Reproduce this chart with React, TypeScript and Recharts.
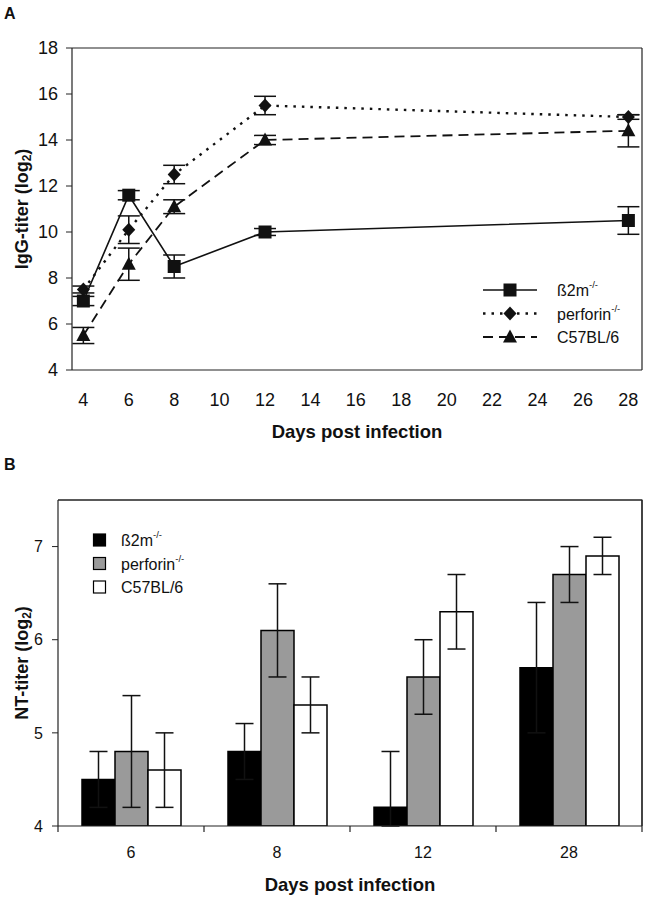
import React from 'react';
import * as RC from 'recharts';
import {
  LineChart, Line, BarChart, Bar, XAxis, YAxis, ErrorBar, Legend, Label,
} from 'recharts';

const FONT = '"Liberation Sans", Arial, Helvetica, sans-serif';
const INK = '#111';
const AXIS = '#222';

// ---------- Panel A: IgG titer ----------
const igDays = [4, 6, 8, 12, 28];
const b2mIgG = [7.0, 11.6, 8.5, 10.0, 10.5];
const b2mIgGErr = [0.2, 0.2, 0.5, 0.15, 0.6];
const perfIgG = [7.5, 10.1, 12.5, 15.5, 15.0];
const perfIgGErr = [0.15, 0.6, 0.4, 0.4, 0.1];
const c57IgG = [5.5, 8.6, 11.1, 14.0, 14.4];
const c57IgGErr = [0.35, 0.7, 0.3, 0.2, 0.7];
const igXTicks = [4, 6, 8, 10, 12, 14, 16, 18, 20, 22, 24, 26, 28];
const igYTicks = [4, 6, 8, 10, 12, 14, 16, 18];

// ---------- Panel B: NT titer ----------
const ntDays = ['6', '8', '12', '28'];
const b2mNT = [4.5, 4.8, 4.2, 5.7];
const b2mNTErr = [[0.3, 0.3], [0.3, 0.3], [0.2, 0.6], [0.7, 0.7]];
const perfNT = [4.8, 6.1, 5.6, 6.7];
const perfNTErr = [0.6, 0.5, 0.4, 0.3];
const c57NT = [4.6, 5.3, 6.3, 6.9];
const c57NTErr = [0.4, 0.3, 0.4, 0.2];
const ntYTicks = [4, 5, 6, 7];

const seriesNames = ['ß2m', 'perforin', 'C57BL/6'];
const seriesSup = ['-/-', '-/-', ''];
const barFills = ['#000000', '#9a9a9a', '#ffffff'];

const igData = igDays.map((d, i) => ({
  day: d,
  b2m: b2mIgG[i], b2mErr: b2mIgGErr[i],
  perf: perfIgG[i], perfErr: perfIgGErr[i],
  c57: c57IgG[i], c57Err: c57IgGErr[i],
}));

const ntData = ntDays.map((d, i) => ({
  day: d,
  b2m: b2mNT[i], b2mErr: b2mNTErr[i],
  perf: perfNT[i], perfErr: perfNTErr[i],
  c57: c57NT[i], c57Err: c57NTErr[i],
}));

const lineDash = ['', '2.5 6', '10 6'];
const lineWidth = [1.6, 2.4, 1.8];

// layout constants
const W = 646;
const H_A = 450;
const H_B = 449;
const M_A = { top: 48, right: 4, bottom: 40, left: 0 };
const M_B = { top: 50, right: 4, bottom: 33, left: 0 };
const YW_A = 72;
const YW_B = 58;
const XH = 40;

// panel B plot-area box, derived from the layout constants
const B_LEFT = M_B.left + YW_B;
const B_RIGHT = W - M_B.right;
const B_TOP = H_A + M_B.top;
const B_BOTTOM = H_A + H_B - M_B.bottom - XH;

// top and right border of the plot area, taken from the chart's own layout
const Frame = () => {
  const useArea = (RC as any).usePlotArea || (RC as any).useOffset;
  const off = useArea ? useArea() : null;
  if (!off) return null;
  const x = off.x != null ? off.x : off.left;
  const y = off.y != null ? off.y : off.top;
  const w = off.width;
  const h = off.height;
  return (
    <g>
      <line x1={x} x2={x + w} y1={y} y2={y} stroke={AXIS} strokeWidth={1.2} />
      <line x1={x + w} x2={x + w} y1={y} y2={y + h} stroke={AXIS} strokeWidth={1.2} />
    </g>
  );
};

function Marker({ kind, cx, cy }: { kind: number; cx: number; cy: number }) {
  if (cx == null || cy == null) return null;
  if (kind === 0) return <rect x={cx - 6.5} y={cy - 6.5} width={13} height={13} fill={INK} />;
  if (kind === 1)
    return <polygon points={`${cx},${cy - 7} ${cx + 6.5},${cy} ${cx},${cy + 7} ${cx - 6.5},${cy}`} fill={INK} />;
  return <polygon points={`${cx},${cy - 7.5} ${cx + 7},${cy + 5.5} ${cx - 7},${cy + 5.5}`} fill={INK} />;
}

const dotFor = (kind: number) => (p: any) => (
  <g key={`m-${kind}-${p.index}`}>
    <Marker kind={kind} cx={p.cx} cy={p.cy} />
  </g>
);

const yTitle = (main: string, cx: number) => (props: any) => {
  const vb = props.viewBox || { x: 0, y: 0, width: 0, height: 0 };
  const y = vb.y + vb.height / 2;
  return (
    <text
      x={cx} y={y} transform={`rotate(-90 ${cx} ${y})`} textAnchor="middle" dominantBaseline="central"
      fontFamily={FONT} fontWeight="bold" fontSize={18} fill={INK}
    >
      {main}
      <tspan fontSize={12} dy={5}>2</tspan>
      <tspan dy={-5}>)</tspan>
    </text>
  );
};

const xTitle = (text: string, dy: number) => (props: any) => {
  const vb = props.viewBox || { x: 0, y: 0, width: 0, height: 0 };
  return (
    <text
      x={vb.x + vb.width / 2} y={vb.y + dy} textAnchor="middle"
      fontFamily={FONT} fontWeight="bold" fontSize={18.5} fill={INK}
    >
      {text}
    </text>
  );
};

// category tick: label at the band centre, tick marks at the band edges
const CatTick = (props: any) => {
  const { x, y, payload, index, visibleTicksCount } = props;
  const half = payload && payload.offset != null ? payload.offset : 0;
  const axisY = y - 21;
  const last = visibleTicksCount != null ? index === visibleTicksCount - 1 : index === ntDays.length - 1;
  return (
    <g>
      <line x1={x - half} x2={x - half} y1={axisY} y2={axisY + 6} stroke={AXIS} strokeWidth={1.2} />
      {last && <line x1={x + half} x2={x + half} y1={axisY} y2={axisY + 6} stroke={AXIS} strokeWidth={1.2} />}
      <text x={x} y={y} dy="0.71em" textAnchor="middle" fontFamily={FONT} fontSize={16} fill={INK}>
        {payload.value}
      </text>
    </g>
  );
};

const renderIgLegend = () => (
  <svg width={170} height={72} style={{ overflow: 'visible' }}>
    {seriesNames.map((n, i) => {
      const y = 12 + i * 23.5;
      return (
        <g key={n}>
          <line x1={3} x2={57} y1={y} y2={y} stroke={INK} strokeWidth={lineWidth[i]} strokeDasharray={lineDash[i]} />
          <Marker kind={i} cx={30} cy={y} />
          <text x={77} y={y + 6} fontFamily={FONT} fontSize={16} fill={INK}>
            {n}
            {seriesSup[i] && <tspan fontSize={9.5} dy={-8}>{seriesSup[i]}</tspan>}
          </text>
        </g>
      );
    })}
  </svg>
);

const renderNtLegend = () => (
  <svg width={170} height={72} style={{ overflow: 'visible' }}>
    {seriesNames.map((n, i) => {
      const y = 10 + i * 23.5;
      return (
        <g key={n}>
          <rect x={3.5} y={y - 6} width={12} height={12} fill={barFills[i]} stroke="#000" strokeWidth={1.2} />
          <text x={31} y={y + 6} fontFamily={FONT} fontSize={16} fill={INK}>
            {n}
            {seriesSup[i] && <tspan fontSize={9.5} dy={-8}>{seriesSup[i]}</tspan>}
          </text>
        </g>
      );
    })}
  </svg>
);

const keys = ['b2m', 'perf', 'c57'];

export default function App() {
  return (
    <div style={{ position: 'absolute', left: 0, top: 0, width: W, height: H_A + H_B, background: '#fff' }}>
      <div style={{ position: 'relative', width: W, height: H_A }}>
        <LineChart id="panelA" width={W} height={H_A} data={igData} margin={M_A}>
          <XAxis
            dataKey="day" type="number" domain={[3.5, 28.6]} allowDataOverflow ticks={igXTicks}
            tickLine={false} axisLine={{ stroke: AXIS, strokeWidth: 1.2 }} tickSize={6} tickMargin={17}
            height={XH} tick={{ fontFamily: FONT, fontSize: 18, fill: INK }} interval={0}
          >
            <Label content={xTitle('Days post infection', 68)} />
          </XAxis>
          <YAxis
            type="number" domain={[4, 18]} ticks={igYTicks} width={YW_A} allowDataOverflow
            tickSize={6} tickMargin={8} tickLine={{ stroke: AXIS }} axisLine={{ stroke: AXIS, strokeWidth: 1.2 }}
            tick={{ fontFamily: FONT, fontSize: 18, fill: INK }} interval={0}
          >
            <Label content={yTitle('IgG-titer (log', 22)} />
          </YAxis>
          <Frame />
          {keys.map((k, i) => (
            <Line
              key={k} dataKey={k} name={seriesNames[i]} stroke={INK} strokeWidth={lineWidth[i]}
              strokeDasharray={lineDash[i] || undefined} dot={dotFor(i)} activeDot={false}
              isAnimationActive={false} type="linear"
            >
              <ErrorBar dataKey={`${k}Err`} direction="y" width={11} stroke={INK} strokeWidth={1.5} />
            </Line>
          ))}
          <Legend
            layout="horizontal" verticalAlign="middle" align="center" content={renderIgLegend}
            wrapperStyle={{ position: 'absolute', left: 480, top: 278, width: 170, height: 72 }}
          />
        </LineChart>
      </div>

      <div style={{ position: 'relative', width: W, height: H_B }}>
        <BarChart
          id="panelB" width={W} height={H_B} data={ntData} margin={M_B}
          barCategoryGap={24} barGap={0}
        >
          <XAxis
            dataKey="day" type="category" height={XH} tickLine={false}
            axisLine={{ stroke: AXIS, strokeWidth: 1.2 }} tickSize={6} tickMargin={15}
            tick={<CatTick />} interval={0}
          >
            <Label content={xTitle('Days post infection', 65)} />
          </XAxis>
          <YAxis
            type="number" domain={[4, 7.5]} ticks={ntYTicks} width={YW_B} allowDataOverflow
            tickSize={6} tickMargin={9} tickLine={{ stroke: AXIS }} axisLine={{ stroke: AXIS, strokeWidth: 1.2 }}
            tick={{ fontFamily: FONT, fontSize: 16, fill: INK }} interval={0}
          >
            <Label content={yTitle('NT-titer (log', 22)} />
          </YAxis>
          <Frame />
          {keys.map((k, i) => (
            <Bar
              key={k} dataKey={k} name={seriesNames[i]} fill={barFills[i]}
              stroke="#000" strokeWidth={1.5} isAnimationActive={false}
            >
              <ErrorBar dataKey={`${k}Err`} direction="y" width={9} stroke={INK} strokeWidth={1.5} />
            </Bar>
          ))}
          <Legend
            layout="horizontal" verticalAlign="middle" align="center" content={renderNtLegend}
            wrapperStyle={{ position: 'absolute', left: 90, top: 80, width: 170, height: 72 }}
          />
        </BarChart>
      </div>

      <svg width={W} height={H_A + H_B} style={{ position: 'absolute', left: 0, top: 0, pointerEvents: 'none' }}>
        <text x={4} y={18.5} fontFamily={FONT} fontWeight="bold" fontSize={16} fill={INK}>A</text>
        <text x={4} y={469.5} fontFamily={FONT} fontWeight="bold" fontSize={16} fill={INK}>B</text>
        <polyline
          points={`${B_LEFT},${B_TOP} ${B_RIGHT},${B_TOP} ${B_RIGHT},${B_BOTTOM}`}
          fill="none" stroke={AXIS} strokeWidth={1.2}
        />
      </svg>
    </div>
  );
}
